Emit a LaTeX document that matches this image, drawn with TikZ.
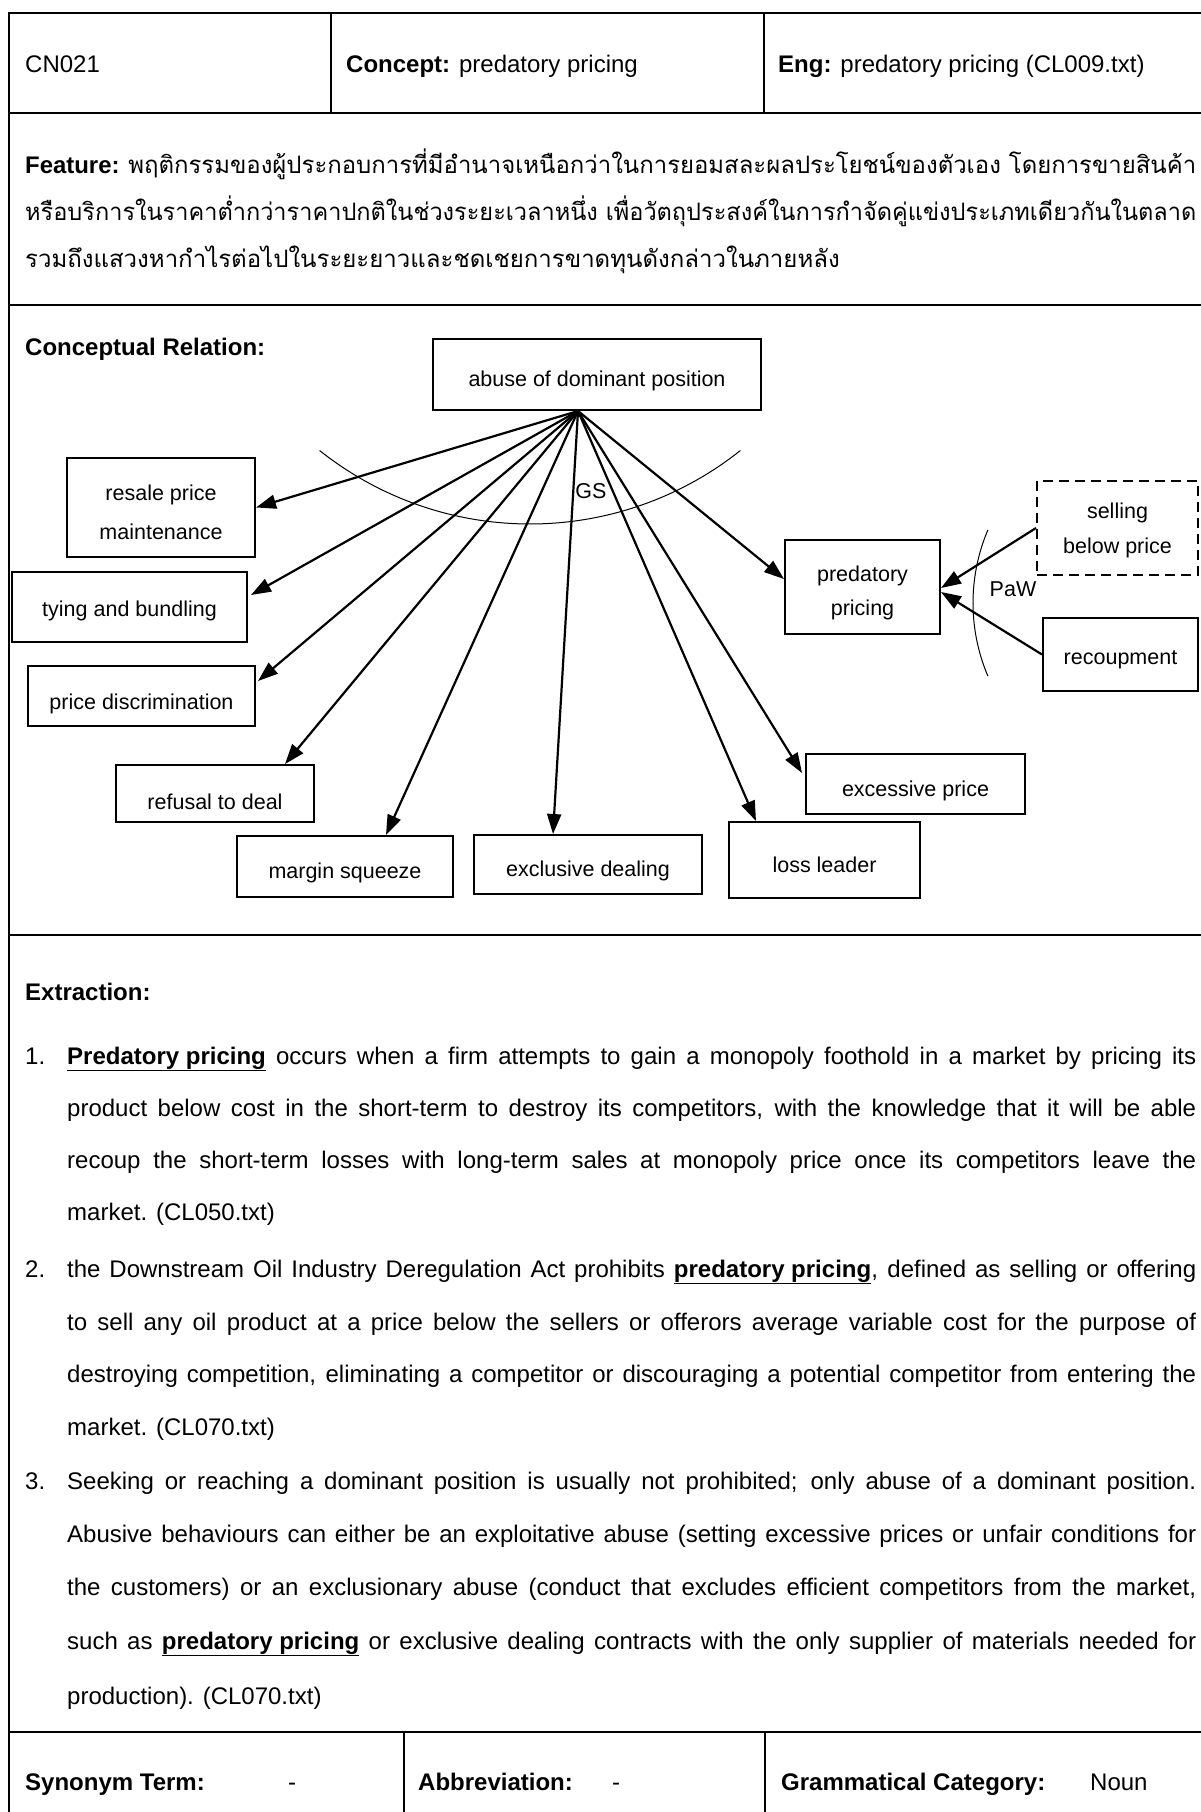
\documentclass[tikz,border=0pt]{standalone}
\usepackage{graphicx}
\usepackage{fontspec}
\setmainfont{Liberation Sans}
\newfontfamily\thaifont[Script=Thai]{Loma}
\usetikzlibrary{arrows.meta,calc}

% one justified line of a fixed width: spaces stretch, or the line is
% squeezed horizontally when it is naturally too long
\newlength\natw
\newcommand\fitline[2]{\settowidth\natw{#2}%
  \ifdim\natw>#1\relax\resizebox{#1}{\height}{#2}\else\makebox[#1][s]{#2}\fi}
\newcommand\term[1]{\underline{\textbf{#1}}}
\newcommand\thai[1]{{\thaifont\fontsize{24}{28}\selectfont #1}}

\begin{document}
\begin{tikzpicture}[x=1pt,y=-1pt,
  rule/.style={line width=2.5pt},
  box/.style={draw,line width=2pt,inner sep=0pt},
  dashbox/.style={box,dash pattern=on 10pt off 6pt},
  lbl/.style={font=\fontsize{21.5}{26}\selectfont,inner sep=0pt,anchor=base},
  body/.style={font=\fontsize{24}{28}\selectfont,inner sep=0pt,anchor=base west},
  rel/.style={line width=2.2pt,-{Triangle[length=20pt,width=14pt]}},
  hint/.style={line width=1pt}]
\useasboundingbox (0,0) rectangle (1200,1812);

% ---------- table frame ----------
\draw[rule,line cap=rect] (1205,13) -- (9,13) -- (9,1816);
\foreach \yy in {113,305,935,1732} \draw[rule] (9,\yy) -- (1205,\yy);
\draw[rule] (331,13) -- (331,113);
\draw[rule] (764,13) -- (764,113);
\draw[rule] (404,1732) -- (404,1816);
\draw[rule] (765,1732) -- (765,1816);

% ---------- header row ----------
\node[body] (id) at (25,72) {CN021};
\node[body] (concept) at (346,72) {\textbf{Concept:} predatory pricing};
\node[body] (eng) at (778,72) {\textbf{Eng:} predatory pricing (CL009.txt)};

% ---------- feature ----------
\node[body] (feat1) at (25,173) {\fitline{1171pt}{\textbf{Feature:} \thai{พฤติกรรมของผู้ประกอบการที่มีอำนาจเหนือกว่าในการยอมสละผลประโยชน์ของตัวเอง โดยการขายสินค้า}}};
\node[body] (feat2) at (25,220) {\fitline{1171pt}{\thai{หรือบริการในราคาต่ำกว่าราคาปกติในช่วงระยะเวลาหนึ่ง เพื่อวัตถุประสงค์ในการกำจัดคู่แข่งประเภทเดียวกันในตลาด}}};
\node[body] (feat3) at (25,267) {\thai{รวมถึงแสวงหากำไรต่อไปในระยะยาวและชดเชยการขาดทุนดังกล่าวในภายหลัง}};

% ---------- conceptual relation ----------
\node[body] (crel) at (25,355) {\textbf{Conceptual Relation:}};

\node[box,minimum width=328pt,minimum height=71pt] (abuse) at (597,374.5) {};
\node[lbl] (abuseT) at (597,386.5) {abuse of dominant position};

\node[box,minimum width=188pt,minimum height=99pt] (resale) at (161,507.5) {};
\node[lbl] (resaleT1) at (161,500.5) {resale price};
\node[lbl] (resaleT2) at (161,539.5) {maintenance};

\node[box,minimum width=235pt,minimum height=70pt] (tying) at (129.5,607) {};
\node[lbl] (tyingT) at (129.5,616.5) {tying and bundling};

\node[box,minimum width=227pt,minimum height=60pt] (pricedisc) at (141.5,696) {};
\node[lbl] (pricediscT) at (141.5,709.5) {price discrimination};

\node[box,minimum width=198pt,minimum height=57pt] (refusal) at (215,793.5) {};
\node[lbl] (refusalT) at (215,809.5) {refusal to deal};

\node[box,minimum width=216pt,minimum height=61pt] (margin) at (345,866.5) {};
\node[lbl] (marginT) at (345,878.5) {margin squeeze};

\node[box,minimum width=228pt,minimum height=59pt] (exclusive) at (588,864.5) {};
\node[lbl] (exclusiveT) at (588,876.5) {exclusive dealing};

\node[box,minimum width=191pt,minimum height=76pt] (loss) at (824.5,860) {};
\node[lbl] (lossT) at (824.5,872.5) {loss leader};

\node[box,minimum width=219pt,minimum height=60pt] (excessive) at (915.5,784) {};
\node[lbl] (excessiveT) at (915.5,796.5) {excessive price};

\node[box,minimum width=155pt,minimum height=94pt] (predatory) at (862.5,587) {};
\node[lbl] (predatoryT1) at (862.5,581.5) {predatory};
\node[lbl] (predatoryT2) at (862.5,615.5) {pricing};

\node[dashbox,minimum width=161pt,minimum height=94pt] (selling) at (1117.5,528) {};
\node[lbl] (sellingT1) at (1117.5,518.5) {selling};
\node[lbl] (sellingT2) at (1117.5,553.5) {below price};

\node[box,minimum width=155pt,minimum height=73pt] (recoup) at (1120.5,654.5) {};
\node[lbl] (recoupT) at (1120.5,664.5) {recoupment};

% generic-specific relations fan out from one point under the top box
\coordinate (hub) at ($(abuse.south)+(-19,0)$);
\draw[rel] (hub) -- (resale.east);
\draw[rel] (hub) -- ($(tying.north east)+(3,24)$);
\draw[rel] (hub) -- ($(pricedisc.north east)+(2,16)$);
\draw[rel] (hub) -- ($(refusal.north east)+(-30,0)$);
\draw[rel] (hub) -- ($(margin.north east)+(-68,0)$);
\draw[rel] (hub) -- ($(exclusive.north west)+(80,0)$);
\draw[rel] (hub) -- ($(loss.north west)+(28,0)$);
\draw[rel] (hub) -- ($(excessive.north west)+(-3,20)$);
\draw[rel] (hub) -- ($(predatory.north west)+(0,40)$);

% part-whole relations
\draw[rel] (selling.west) -- ($(predatory.east)+(0,1)$);
\draw[rel] (recoup.west) -- ($(predatory.east)+(0,5)$);

% relation arcs and their tags
\draw[hint] plot[domain=51.5:128.5,samples=80,smooth] ({530+338*cos(\x)},{186+338*sin(\x)});
\draw[hint] plot[domain=157:203,samples=40,smooth] ({1160+187*cos(\x)},{603+187*sin(\x)});
\node[lbl] (gs) at (591,498.5) {GS};
\node[lbl] (paw) at (1013,596) {PaW};

% ---------- extraction ----------
\node[body] (extr) at (25,1000) {\textbf{Extraction:}};

\node[body] (n1) at (25,1064) {1.};
\node[body] (e11) at (67,1064) {\fitline{1129pt}{\term{Predatory pricing} occurs when a firm attempts to gain a monopoly foothold in a market by pricing its}};
\node[body] (e12) at (67,1116) {\fitline{1129pt}{product below cost in the short-term to destroy its competitors, with the knowledge that it will be able}};
\node[body] (e13) at (67,1168) {\fitline{1129pt}{recoup the short-term losses with long-term sales at monopoly price once its competitors leave the}};
\node[body] (e14) at (67,1220) {market. (CL050.txt)};

\node[body] (n2) at (25,1277) {2.};
\node[body] (e21) at (67,1277) {\fitline{1129pt}{the Downstream Oil Industry Deregulation Act prohibits \term{predatory pricing}, defined as selling or offering}};
\node[body] (e22) at (67,1330) {\fitline{1129pt}{to sell any oil product at a price below the sellers or offerors average variable cost for the purpose of}};
\node[body] (e23) at (67,1382) {\fitline{1129pt}{destroying competition, eliminating a competitor or discouraging a potential competitor from entering the}};
\node[body] (e24) at (67,1435) {market. (CL070.txt)};

\node[body] (n3) at (25,1489) {3.};
\node[body] (e31) at (67,1489) {\fitline{1129pt}{Seeking or reaching a dominant position is usually not prohibited; only abuse of a dominant position.}};
\node[body] (e32) at (67,1542) {\fitline{1129pt}{Abusive behaviours can either be an exploitative abuse (setting excessive prices or unfair conditions for}};
\node[body] (e33) at (67,1595) {\fitline{1129pt}{the customers) or an exclusionary abuse (conduct that excludes efficient competitors from the market,}};
\node[body] (e34) at (67,1649) {\fitline{1129pt}{such as \term{predatory pricing} or exclusive dealing contracts with the only supplier of materials needed for}};
\node[body] (e35) at (67,1704) {production). (CL070.txt)};

% ---------- bottom row ----------
\node[body] (syn) at (25,1790) {\textbf{Synonym Term:}};
\node[body] (synV) at (288,1790) {-};
\node[body] (abb) at (418,1790) {\textbf{Abbreviation:}};
\node[body] (abbV) at (612,1790) {-};
\node[body] (gram) at (781,1790) {\textbf{Grammatical Category:}};
\node[body] (gramV) at (1090,1790) {Noun};
\end{tikzpicture}
\end{document}
